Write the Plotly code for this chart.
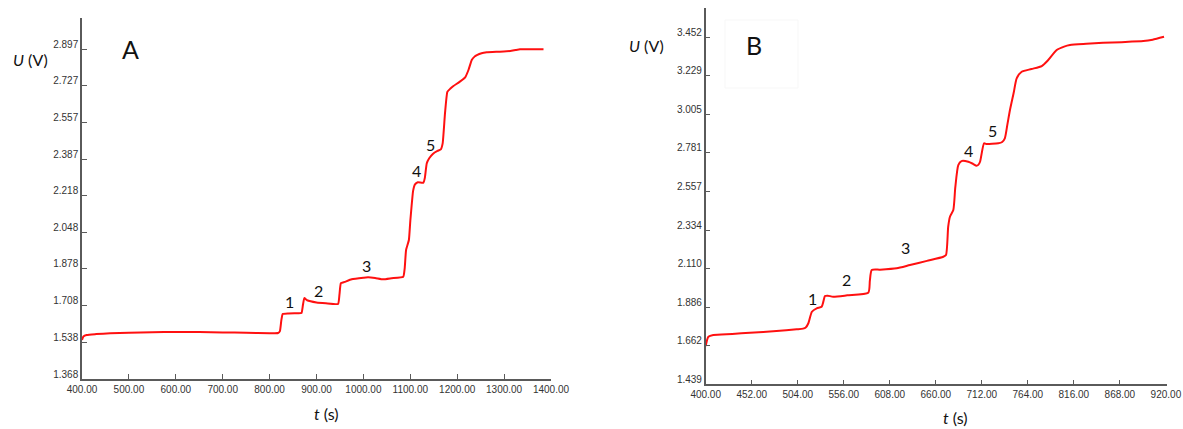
import plotly.graph_objects as go

# ---------------- data: panel A ----------------
t_a = [400, 403, 410, 430, 460, 500, 550, 600, 650, 700, 750, 800, 818, 822, 825, 828,
       840, 860, 868, 871, 874, 880, 900, 920, 946, 949, 952, 960, 975, 1000, 1010, 1025,
       1042, 1060, 1085, 1088, 1091, 1097, 1100, 1106, 1110, 1116, 1128, 1131, 1135, 1140,
       1148, 1158, 1165, 1169, 1174, 1179, 1185, 1192, 1205, 1217, 1224, 1231, 1237, 1242,
       1252, 1263, 1290, 1313, 1325, 1334, 1360, 1384]
u_a = [1.549, 1.565, 1.572, 1.576, 1.580, 1.582, 1.585, 1.586, 1.586, 1.584, 1.582, 1.580,
       1.581, 1.590, 1.640, 1.669, 1.672, 1.673, 1.674, 1.710, 1.743, 1.733, 1.723, 1.719,
       1.716, 1.760, 1.812, 1.818, 1.830, 1.837, 1.839, 1.836, 1.830, 1.835, 1.842, 1.880,
       1.966, 2.012, 2.100, 2.240, 2.270, 2.280, 2.278, 2.300, 2.367, 2.390, 2.411, 2.425,
       2.432, 2.460, 2.600, 2.699, 2.713, 2.726, 2.745, 2.766, 2.800, 2.846, 2.862, 2.869,
       2.878, 2.882, 2.885, 2.888, 2.893, 2.896, 2.896, 2.896]
yticks_a = [1.368, 1.538, 1.708, 1.878, 2.048, 2.218, 2.387, 2.557, 2.727, 2.897]
xticks_a = [400, 500, 600, 700, 800, 900, 1000, 1100, 1200, 1300, 1400]
labels_a = ["1", "2", "3", "4", "5"]
label_t_a = [843, 905, 1007, 1114, 1144]
label_u_a = [1.725, 1.776, 1.896, 2.332, 2.457]

# ---------------- data: panel B ----------------
t_b = [400, 401.5, 403, 408.6, 430, 450, 480, 502.8, 510, 513, 516, 520, 525.4, 531, 533,
       534.8, 538, 544, 560, 583.7, 585.5, 587.6, 597, 615.8, 630.8, 650, 668.5, 671.5, 674,
       676, 679.8, 682, 685.4, 689, 696.7, 702, 706, 708, 710, 714.5, 717, 730.6, 735, 738,
       741, 743.8, 748, 751.4, 757, 768, 779.7, 787, 796.6, 805, 811.6, 830, 849, 870, 894.5,
       905, 917.9]
u_b = [1.661, 1.695, 1.715, 1.725, 1.731, 1.738, 1.748, 1.758, 1.762, 1.768, 1.793, 1.860,
       1.880, 1.889, 1.920, 1.951, 1.953, 1.947, 1.955, 1.970, 2.040, 2.102, 2.104, 2.112,
       2.131, 2.155, 2.179, 2.189, 2.353, 2.411, 2.450, 2.580, 2.711, 2.734, 2.730, 2.718,
       2.707, 2.712, 2.730, 2.837, 2.833, 2.837, 2.845, 2.866, 2.950, 3.030, 3.130, 3.214,
       3.252, 3.268, 3.285, 3.320, 3.378, 3.398, 3.407, 3.414, 3.420, 3.424, 3.430, 3.438,
       3.455]
yticks_b = [1.439, 1.662, 1.886, 2.110, 2.334, 2.557, 2.781, 3.005, 3.229, 3.452]
xticks_b = [400, 452, 504, 556, 608, 660, 712, 764, 816, 868, 920]
labels_b = ["1", "2", "3", "4", "5"]
label_t_b = [520.5, 559.3, 626.3, 697.5, 723.9]
label_u_b = [1.934, 2.048, 2.234, 2.794, 2.914]

W, H = 1183, 429
AXCOL = "#5a5a5a"
TICKFONT = dict(family="Liberation Sans, Arial", size=10, color="#333333")
LABFONT = dict(family="Lato, Open Sans", size=16, color="#111111")

fig = go.Figure()
fig.add_trace(go.Scatter(x=t_a, y=u_a, mode="lines", xaxis="x", yaxis="y",
                         line=dict(color="#ff1010", width=2, shape="spline", smoothing=0.4),
                         showlegend=False, hoverinfo="skip"))
fig.add_trace(go.Scatter(x=t_b, y=u_b, mode="lines", xaxis="x2", yaxis="y2",
                         line=dict(color="#ff1010", width=2, shape="spline", smoothing=0.6),
                         showlegend=False, hoverinfo="skip"))


def xaxis(domain, rng, ticks, anchor):
    return dict(domain=domain, range=rng, anchor=anchor, showgrid=False, zeroline=False,
                automargin=False,
                showline=True, linecolor=AXCOL, linewidth=1.5, ticks="inside", ticklen=5,
                tickwidth=1.2, tickcolor=AXCOL, tickvals=ticks, tickformat=".2f",
                tickfont=TICKFONT, fixedrange=True)


def yaxis(domain, rng, ticks, anchor):
    return dict(domain=domain, range=rng, anchor=anchor, showgrid=False, zeroline=False,
                automargin=False,
                showline=True, linecolor=AXCOL, linewidth=1.5, ticks="inside", ticklen=5,
                tickwidth=1.2, tickcolor=AXCOL, tickvals=ticks, tickformat=".3f",
                tickfont=TICKFONT, ticklabelshift=-5, fixedrange=True)


fig.update_layout(
    template="none",
    width=W, height=H,
    margin=dict(l=0, r=0, t=0, b=0, pad=0, autoexpand=False),
    paper_bgcolor="white", plot_bgcolor="white",
    xaxis=xaxis([82 / W, 551 / W], [400, 1400], xticks_a, "y"),
    yaxis=yaxis([1 - 379 / H, 1 - 18 / H], [1.368, 3.041], yticks_a, "x"),
    xaxis2=xaxis([705.7 / W, 1166.7 / W], [400, 920.9], xticks_b, "y2"),
    yaxis2=yaxis([1 - 384.3 / H, 1 - 8 / H], [1.439, 3.622], yticks_b, "x2"),
)

ann = []
for lab, tx, uy in zip(labels_a, label_t_a, label_u_a):
    ann.append(dict(x=tx, y=uy, xref="x", yref="y", text=lab, showarrow=False, font=LABFONT))
for lab, tx, uy in zip(labels_b, label_t_b, label_u_b):
    ann.append(dict(x=tx, y=uy, xref="x2", yref="y2", text=lab, showarrow=False, font=LABFONT))

TITLEFONT = dict(family="Lato, Open Sans", size=16, color="#111111")
for txt, px, py in [("<i>U</i> (V)", 30.5, 59), ("<i>U</i> (V)", 646.7, 45),
                    ("<i>t</i> (s)", 326, 413), ("<i>t</i> (s)", 955, 417)]:
    ann.append(dict(x=px / W, y=1 - py / H, xref="paper", yref="paper", text=txt,
                    showarrow=False, font=TITLEFONT, xanchor="center", yanchor="middle"))
for txt, px, py in [("A", 130.5, 49), ("B", 754, 45)]:
    ann.append(dict(x=px / W, y=1 - py / H, xref="paper", yref="paper", text=txt,
                    showarrow=False, font=dict(family="Lato, Open Sans", size=25, color="#111111"),
                    xanchor="center", yanchor="middle"))
fig.update_layout(annotations=ann)

fig.add_shape(type="rect", xref="paper", yref="paper",
              x0=725 / W, x1=798 / W, y0=1 - 88 / H, y1=1 - 20 / H,
              line=dict(color="#f7f7f7", width=1), fillcolor="rgba(0,0,0,0)")

fig.write_html("out.html", config={"displayModeBar": False},
               post_script="document.body.style.margin='0';")
